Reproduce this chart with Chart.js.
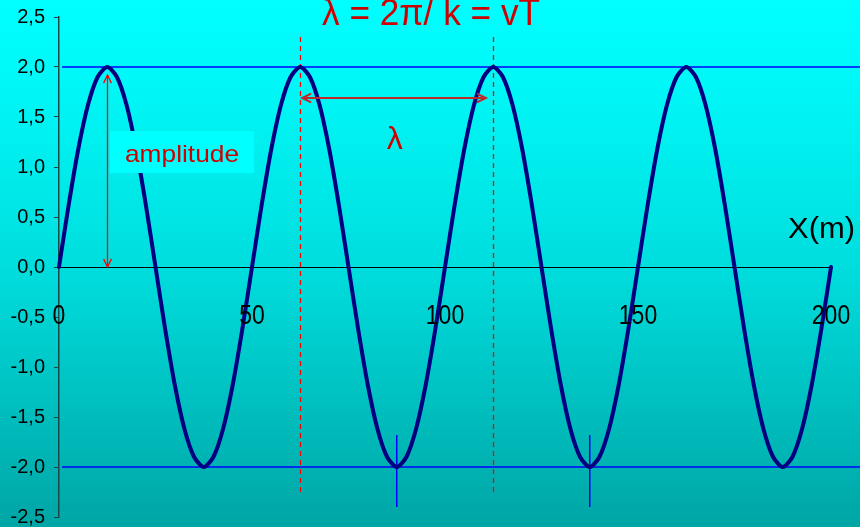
<!DOCTYPE html>
<html>
<head>
<meta charset="utf-8">
<script src="https://cdn.jsdelivr.net/npm/chart.js@4.4.1/dist/chart.umd.min.js"></script>
<style>
  html, body { margin: 0; padding: 0; background: #00dede; }
  #wrap { width: 860px; height: 527px; position: relative; }
</style>
</head>
<body>
<div id="wrap"><canvas id="wave"></canvas></div>
<script>
// position along the string (m)
const xPositions = [
  0, 2.5, 5, 7.5, 10, 12.5, 15, 17.5, 20, 22.5,
  25, 27.5, 30, 32.5, 35, 37.5, 40, 42.5, 45, 47.5,
  50, 52.5, 55, 57.5, 60, 62.5, 65, 67.5, 70, 72.5,
  75, 77.5, 80, 82.5, 85, 87.5, 90, 92.5, 95, 97.5,
  100, 102.5, 105, 107.5, 110, 112.5, 115, 117.5, 120, 122.5,
  125, 127.5, 130, 132.5, 135, 137.5, 140, 142.5, 145, 147.5,
  150, 152.5, 155, 157.5, 160, 162.5, 165, 167.5, 170, 172.5,
  175, 177.5, 180, 182.5, 185, 187.5, 190, 192.5, 195, 197.5,
  200,
];

// displacement at each position
const displacement = [
  0, 0.62, 1.18, 1.62, 1.90, 2.00, 1.90, 1.62, 1.18, 0.62,
  0, -0.62, -1.18, -1.62, -1.90, -2.00, -1.90, -1.62, -1.18, -0.62,
  0, 0.62, 1.18, 1.62, 1.90, 2.00, 1.90, 1.62, 1.18, 0.62,
  0, -0.62, -1.18, -1.62, -1.90, -2.00, -1.90, -1.62, -1.18, -0.62,
  0, 0.62, 1.18, 1.62, 1.90, 2.00, 1.90, 1.62, 1.18, 0.62,
  0, -0.62, -1.18, -1.62, -1.90, -2.00, -1.90, -1.62, -1.18, -0.62,
  0, 0.62, 1.18, 1.62, 1.90, 2.00, 1.90, 1.62, 1.18, 0.62,
  0, -0.62, -1.18, -1.62, -1.90, -2.00, -1.90, -1.62, -1.18, -0.62,
  0,
];

const xTickLabels = ['0', '50', '100', '150', '200'];
const yTickLabels = ['-2,5', '-2,0', '-1,5', '-1,0', '-0,5', '0,0', '0,5', '1,0', '1,5', '2,0', '2,5'];

const SANS = "'Liberation Sans', Arial, sans-serif";

function arrowHead(ctx, x, y, angle, size) {
  ctx.beginPath();
  ctx.moveTo(x + size * Math.cos(angle + 0.45), y + size * Math.sin(angle + 0.45));
  ctx.lineTo(x, y);
  ctx.lineTo(x + size * Math.cos(angle - 0.45), y + size * Math.sin(angle - 0.45));
  ctx.stroke();
}

function doubleArrow(ctx, x1, y1, x2, y2, size) {
  ctx.beginPath();
  ctx.moveTo(x1, y1);
  ctx.lineTo(x2, y2);
  ctx.stroke();
  const a = Math.atan2(y2 - y1, x2 - x1);
  arrowHead(ctx, x1, y1, a, size);
  arrowHead(ctx, x2, y2, a + Math.PI, size);
}

// squeeze text horizontally by a factor, anchored per textAlign
function squeezeText(ctx, text, x, y, sx) {
  ctx.save();
  ctx.translate(x, y);
  ctx.scale(sx, 1);
  ctx.fillText(text, 0, 0);
  ctx.restore();
}

// squeeze text horizontally to a given width
function fitText(ctx, text, x, y, width) {
  squeezeText(ctx, text, x, y, width / ctx.measureText(text).width);
}

const backdrop = {
  id: 'backdrop',
  beforeDraw(chart) {
    const { ctx, width, height } = chart;
    const g = ctx.createLinearGradient(0, 0, 0, height);
    g.addColorStop(0, '#00ffff');
    g.addColorStop(0.15, '#00f8f8');
    g.addColorStop(0.5, '#00dede');
    g.addColorStop(1, '#00a5a5');
    ctx.save();
    ctx.fillStyle = g;
    ctx.fillRect(0, 0, width, height);
    ctx.restore();
  },
};

// x tick labels sit under the zero line in a condensed face
const narrowTicks = {
  id: 'narrowTicks',
  afterDraw(chart) {
    const { ctx, scales: { x, y } } = chart;
    const base = y.getPixelForValue(0);
    ctx.save();
    ctx.fillStyle = '#000000';
    ctx.font = '28px ' + SANS;
    ctx.textAlign = 'center';
    ctx.textBaseline = 'alphabetic';
    x.ticks.forEach((t, i) => {
      squeezeText(ctx, xTickLabels[i], x.getPixelForValue(t.value), base + 57, 0.82);
    });
    ctx.restore();
  },
};

// guide lines drawn under the wave
const guides = {
  id: 'guides',
  beforeDatasetsDraw(chart) {
    const { ctx, width, chartArea, scales: { x, y } } = chart;
    ctx.save();

    // amplitude levels
    ctx.strokeStyle = '#0000ff';
    ctx.lineWidth = 1.5;
    [2, -2].forEach(v => {
      const py = y.getPixelForValue(v);
      ctx.beginPath();
      ctx.moveTo(chartArea.left + 3, py);
      ctx.lineTo(width, py);
      ctx.stroke();
    });

    // troughs
    [87.5, 137.5].forEach(v => {
      const px = x.getPixelForValue(v);
      ctx.beginPath();
      ctx.moveTo(px, y.getPixelForValue(-1.68));
      ctx.lineTo(px, y.getPixelForValue(-2.4));
      ctx.stroke();
    });

    // crests bounding one wavelength
    ctx.strokeStyle = '#ff0000';
    ctx.lineWidth = 1.3;
    ctx.setLineDash([5, 4]);
    [62.5, 112.5].forEach(v => {
      const px = Math.round(x.getPixelForValue(v)) + 0.5;
      ctx.beginPath();
      ctx.moveTo(px, y.getPixelForValue(2.3));
      ctx.lineTo(px, y.getPixelForValue(-2.25));
      ctx.stroke();
    });
    ctx.restore();
  },
  afterDatasetsDraw(chart) {
    const { ctx, scales: { x, y } } = chart;
    ctx.save();

    // amplitude arrow and its boxed label
    ctx.strokeStyle = '#ff0000';
    ctx.lineWidth = 1.3;
    const ax = Math.round(x.getPixelForValue(12.5)) + 0.5;
    doubleArrow(ctx, ax, y.getPixelForValue(1.92), ax, y.getPixelForValue(0), 9);

    ctx.fillStyle = '#00ffff';
    ctx.fillRect(110, 131, 144, 42);
    ctx.fillStyle = '#d00000';
    ctx.font = '24px ' + SANS;
    ctx.textAlign = 'left';
    ctx.textBaseline = 'alphabetic';
    fitText(ctx, 'amplitude', 125, 162, 114);

    // wavelength arrow
    ctx.strokeStyle = '#c02828';
    ctx.lineWidth = 2;
    const ly = y.getPixelForValue(1.69);
    doubleArrow(ctx, x.getPixelForValue(63), ly, x.getPixelForValue(110.6), ly, 10);

    ctx.font = '32px ' + SANS;
    ctx.textAlign = 'center';
    ctx.fillText('λ', x.getPixelForValue(87.5) - 2, 149);

    // formula at the top
    ctx.textAlign = 'left';
    ctx.font = '36px ' + SANS;
    fitText(ctx, 'λ = 2π/ k = vT', 322, 25, 218);

    // axis name
    ctx.fillStyle = '#000000';
    ctx.font = '30px ' + SANS;
    fitText(ctx, 'X(m)', 788, 238, 67);
    ctx.restore();
  },
};

new Chart(document.getElementById('wave'), {
  type: 'line',
  data: {
    datasets: [{
      data: xPositions.map((v, i) => ({ x: v, y: displacement[i] })),
      borderColor: '#000080',
      borderWidth: 4,
      borderJoinStyle: 'round',
      borderCapStyle: 'round',
      pointRadius: 0,
      tension: 0.25,
      fill: false,
      clip: false,
    }],
  },
  options: {
    responsive: true,
    maintainAspectRatio: false,
    animation: false,
    layout: { padding: { top: 17, bottom: 10, left: 0, right: 29 } },
    plugins: {
      legend: { display: false },
      tooltip: { enabled: false },
    },
    scales: {
      x: {
        type: 'linear',
        position: { y: 0 },
        min: 0,
        max: 200,
        ticks: {
          stepSize: 50,
          display: false,
          callback: (v, i) => xTickLabels[i],
        },
        grid: { display: false, drawTicks: false },
        border: { display: true, color: '#000000', width: 1 },
        afterFit(scale) {
          scale.paddingLeft = 0;
          scale.paddingRight = 0;
        },
      },
      y: {
        min: -2.5,
        max: 2.5,
        ticks: {
          stepSize: 0.5,
          color: '#000000',
          padding: 9,
          font: { family: SANS, size: 20 },
          callback: (v, i) => yTickLabels[i],
        },
        grid: { drawOnChartArea: false, drawTicks: true, tickLength: 5, color: '#1c4848' },
        border: { display: true, color: '#1c4848', width: 1.5 },
        afterFit(scale) {
          scale.width = 59;
          scale.paddingTop = 0;
          scale.paddingBottom = 0;
        },
      },
    },
  },
  plugins: [backdrop, narrowTicks, guides],
});
</script>
</body>
</html>
